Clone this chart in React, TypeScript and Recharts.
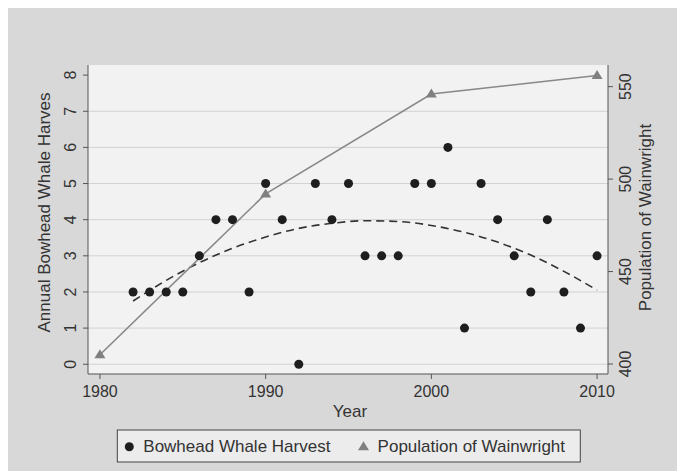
import { ComposedChart, XAxis, YAxis, Scatter, Line, CartesianGrid } from 'recharts';

const HARVEST_YEARS = [
  1982, 1983, 1984, 1985, 1986, 1987, 1988, 1989, 1990, 1991, 1992, 1993, 1994, 1995, 1996,
  1997, 1998, 1999, 2000, 2001, 2002, 2003, 2004, 2005, 2006, 2007, 2008, 2009, 2010,
];
const HARVEST = [2, 2, 2, 2, 3, 4, 4, 2, 5, 4, 0, 5, 4, 5, 3, 3, 3, 5, 5, 6, 1, 5, 4, 3, 2, 4, 2, 1, 3];

const POP_YEARS = [1980, 1990, 2000, 2010];
const POPULATION = [405, 492, 546, 556];

// dashed fitted curve
const FIT_YEARS = [1982, 1984, 1986, 1988, 1990, 1992, 1994, 1996, 1998, 2000, 2002, 2004, 2006, 2008, 2010];
const FIT = [1.75, 2.32, 2.81, 3.21, 3.52, 3.76, 3.9, 3.97, 3.95, 3.84, 3.65, 3.38, 3.02, 2.57, 2.05];

const YEAR_TICKS = [1980, 1990, 2000, 2010];
const HARVEST_TICKS = [0, 1, 2, 3, 4, 5, 6, 7, 8];
const GRID_VALUES = [0, 1, 2, 3, 4, 5, 6, 7];
const POP_TICKS = [400, 450, 500, 550];

const harvestData = HARVEST_YEARS.map((year, i) => ({ year, harvest: HARVEST[i] }));
const popData = POP_YEARS.map((year, i) => ({ year, pop: POPULATION[i] }));
const fitData = FIT_YEARS.map((year, i) => ({ year, fit: FIT[i] }));

const FONT = '"Liberation Sans", Arial, Helvetica, sans-serif';
const TEXT = '#333';
const AXIS = '#555';

const VTick = ({ x, y, payload }: { x?: number; y?: number; payload?: { value: number } }) => (
  <text
    x={x}
    y={y}
    transform={`rotate(-90 ${x} ${y})`}
    textAnchor="middle"
    fontSize={16}
    fontFamily={FONT}
    fill={TEXT}
  >
    {payload?.value}
  </text>
);

const Triangle = ({ cx, cy, color }: { cx?: number; cy?: number; color: string }) => {
  if (cx == null || cy == null) return null;
  return <polygon points={`${cx},${cy - 5.5} ${cx + 5.5},${cy + 3.5} ${cx - 5.5},${cy + 3.5}`} fill={color} />;
};

export default function App() {
  return (
    <div style={{ width: 677, height: 463, background: '#d8d8d8' }}>
      <ComposedChart width={677} height={463} margin={{ top: 57, right: 0, bottom: 0, left: 0 }}>
        <CartesianGrid
          yAxisId="left"
          vertical={false}
          horizontalValues={GRID_VALUES}
          stroke="#d2d2d2"
          fill="#f2f2f2"
        />
        <XAxis
          dataKey="year"
          type="number"
          domain={[1979.28, 2010.66]}
          allowDataOverflow
          ticks={YEAR_TICKS}
          height={97}
          tickSize={5}
          tickMargin={7}
          stroke={AXIS}
          tick={{ fill: TEXT, fontSize: 16, fontFamily: FONT }}
        />
        <YAxis
          yAxisId="left"
          orientation="left"
          type="number"
          domain={[-0.27, 8.28]}
          allowDataOverflow
          ticks={HARVEST_TICKS}
          width={80}
          tickSize={5}
          tickMargin={7}
          stroke={AXIS}
          tick={<VTick />}
        />
        <YAxis
          yAxisId="right"
          orientation="right"
          type="number"
          domain={[394.6, 561.7]}
          allowDataOverflow
          ticks={POP_TICKS}
          width={77}
          tickSize={5}
          tickMargin={18}
          stroke={AXIS}
          tick={<VTick />}
        />
        <Line
          yAxisId="left"
          data={fitData}
          dataKey="fit"
          type="monotone"
          stroke="#333"
          strokeWidth={1.6}
          strokeDasharray="8 5"
          dot={false}
          isAnimationActive={false}
        />
        <Scatter
          yAxisId="left"
          data={harvestData}
          dataKey="harvest"
          fill="#1e1e1e"
          isAnimationActive={false}
        />
        <Line
          yAxisId="right"
          data={popData}
          dataKey="pop"
          type="linear"
          stroke="#888"
          strokeWidth={1.6}
          dot={(p: { cx?: number; cy?: number; index?: number }) => (
            <Triangle key={`t-${p.index}`} cx={p.cx} cy={p.cy} color="#808080" />
          )}
          isAnimationActive={false}
        />

        <text
          x={42}
          y={204.5}
          transform="rotate(-90 42 204.5)"
          textAnchor="middle"
          fontSize={17}
          fontFamily={FONT}
          fill={TEXT}
        >
          Annual Bowhead Whale Harves
        </text>
        <text
          x={643.4}
          y={209.5}
          transform="rotate(-90 643.4 209.5)"
          textAnchor="middle"
          fontSize={17}
          fontFamily={FONT}
          fill={TEXT}
        >
          Population of Wainwright
        </text>
        <text x={342} y={408.7} textAnchor="middle" fontSize={17} fontFamily={FONT} fill={TEXT}>
          Year
        </text>

        <rect x={109.3} y={422} width={463} height={32} fill="#ececec" stroke="#444" strokeWidth={1} />
        <circle cx={121.3} cy={438.7} r={4.5} fill="#1e1e1e" />
        <text x={135.3} y={444.3} fontSize={17} fontFamily={FONT} fill={TEXT}>
          Bowhead Whale Harvest
        </text>
        <Triangle cx={355.5} cy={438.7} color="#808080" />
        <text x={369.6} y={444.3} fontSize={17} fontFamily={FONT} fill={TEXT}>
          Population of Wainwright
        </text>
      </ComposedChart>
    </div>
  );
}
